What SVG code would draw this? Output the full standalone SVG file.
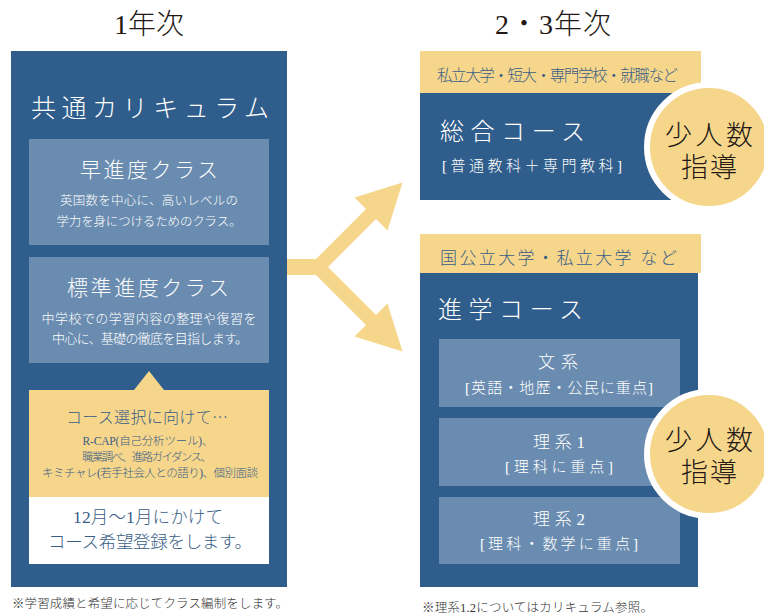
<svg xmlns="http://www.w3.org/2000/svg" width="764" height="616" viewBox="0 0 764 616">
<style>
text{font-family:"Liberation Serif","Noto Sans CJK JP",serif;font-weight:300;}
.blue{fill:#2f5d8c;}
.sub{fill:#6a8cb0;}
.yel{fill:#f6d68b;}
.w{fill:#ffffff;}
.head{fill:#231815;font-size:28px;text-anchor:middle;}
.wt{fill:#ffffff;}
.bt{fill:#3a5e86;}
.mid{text-anchor:middle;}
.note{fill:#333333;font-size:12.5px;}
.circ{fill:#231815;font-size:27px;text-anchor:middle;font-weight:300;}
.cjk{font-family:"Noto Sans CJK JP",sans-serif;}
</style>

<g id="heading-1">
<text class="head" x="149" y="34">1年次</text>
</g>
<g id="heading-2">
<text class="head" x="553" y="34" textLength="116">2・3年次</text>
</g>

<g id="common-curriculum">
<rect class="blue" x="11" y="51" width="276" height="536"/>
<text class="wt" x="31" y="117" font-size="25" textLength="238">共通カリキュラム</text>
</g>

<g id="fast-class">
<rect class="sub" x="29" y="139" width="240" height="106"/>
<text class="wt mid" x="149" y="177" font-size="21" textLength="138">早進度クラス</text>
<text class="wt mid" x="149" y="205" font-size="12.5" textLength="178">英国数を中心に、高いレベルの</text>
<text class="wt mid" x="149" y="226" font-size="12.5" textLength="185">学力を身につけるためのクラス。</text>
</g>

<g id="standard-class">
<rect class="sub" x="29" y="257" width="240" height="106"/>
<text class="wt mid" x="148" y="295" font-size="21" textLength="162">標準進度クラス</text>
<text class="wt mid" x="149" y="323" font-size="13" textLength="215">中学校での学習内容の整理や復習を</text>
<text class="wt mid" x="150" y="343" font-size="13" textLength="196">中心に、基礎の徹底を目指します。</text>
</g>

<g id="course-selection">
<polygon class="yel" points="134,390 149,371 164,390"/>
<rect class="yel" x="29" y="390" width="240" height="107"/>
<text class="bt mid cjk" x="147" y="423" font-size="16" textLength="162">コース選択に向けて…</text>
<text class="bt mid" x="148" y="445" font-size="11.5" textLength="131">R-CAP(自己分析ツール)、</text>
<text class="bt mid" x="147" y="461" font-size="11.5" textLength="130">職業調べ、進路ガイダンス、</text>
<text class="bt mid" x="150" y="477" font-size="11.5" textLength="216">キミチャレ(若手社会人との語り)、個別面談</text>
</g>

<g id="registration">
<rect class="w" x="29" y="497" width="240" height="67"/>
<text class="bt mid" x="148" y="523" font-size="17.5" textLength="150">12月〜1月にかけて</text>
<text class="bt mid" x="150" y="548" font-size="17.5" textLength="204">コース希望登録をします。</text>
</g>

<g id="note-left">
<text class="note" x="12" y="608" textLength="276">※学習成績と希望に応じてクラス編制をします。</text>
</g>

<g id="connectors">
<polygon class="yel" points="287,259 316,259 366,209 354.5,197.5 402.5,182.5 387.5,230.5 376,219 328,267 376,315 387.5,303.5 402.5,351.5 354.5,336.5 366,325 316,275 287,275"/>
</g>

<g id="general-course">
<rect class="yel" x="420" y="51" width="281" height="42"/>
<text class="bt" x="437" y="81" font-size="15.5" textLength="241">私立大学・短大・専門学校・就職など</text>
<rect class="blue" x="420" y="93" width="278" height="107"/>
<text class="wt" x="440" y="140" font-size="24" textLength="145">総合コース</text>
<text class="wt" x="442" y="171" font-size="15" textLength="180">[普通教科＋専門教科]</text>
</g>

<g id="small-group-1">
<circle cx="709" cy="147" r="62" fill="#f6d68b" stroke="#ffffff" stroke-width="6"/>
<text class="circ" x="709" y="145" textLength="88">少人数</text>
<text class="circ" x="709" y="177" textLength="56">指導</text>
</g>

<g id="academic-course">
<rect class="yel" x="420" y="234" width="281" height="39"/>
<text class="bt" x="440" y="264" font-size="17" textLength="237">国公立大学・私立大学 など</text>
<rect class="blue" x="420" y="273" width="278" height="314"/>
<text class="wt" x="438" y="318" font-size="24" textLength="145">進学コース</text>
</g>

<g id="humanities">
<rect class="sub" x="439" y="339" width="241" height="68"/>
<text class="wt mid" x="558" y="368" font-size="17" textLength="40">文系</text>
<text class="wt mid" x="559" y="393" font-size="15" textLength="188">[英語・地歴・公民に重点]</text>
</g>

<g id="science-1">
<rect class="sub" x="439" y="418" width="241" height="68"/>
<text class="wt mid" x="559" y="448" font-size="17" textLength="52">理系1</text>
<text class="wt mid" x="559" y="472" font-size="15" textLength="108">[理科に重点]</text>
</g>

<g id="science-2">
<rect class="sub" x="439" y="497" width="241" height="67"/>
<text class="wt mid" x="559" y="525" font-size="17" textLength="52">理系2</text>
<text class="wt mid" x="559" y="549" font-size="15" textLength="158">[理科・数学に重点]</text>
</g>

<g id="small-group-2">
<circle cx="709" cy="454" r="62" fill="#f6d68b" stroke="#ffffff" stroke-width="6"/>
<text class="circ" x="709" y="450" textLength="88">少人数</text>
<text class="circ" x="709" y="482" textLength="56">指導</text>
</g>

<g id="note-right">
<text class="note" x="422" y="612" textLength="231">※理系1.2についてはカリキュラム参照。</text>
</g>
</svg>
